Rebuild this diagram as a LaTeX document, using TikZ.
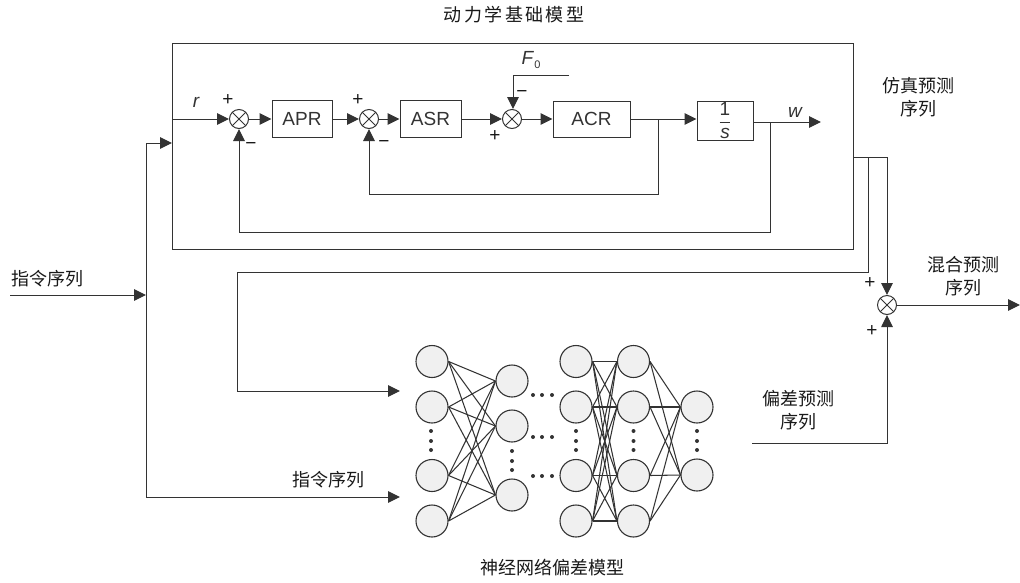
\documentclass[tikz,border=0pt]{standalone}
\usepackage{fontspec}
\setmainfont{Liberation Sans}
\newfontfamily\cjk{Noto Sans CJK SC}
\newfontfamily\cjkwide[LetterSpace=13]{Noto Sans CJK SC}
\usetikzlibrary{arrows.meta,calc}
\definecolor{ln}{HTML}{333333}
\tikzset{
  wire/.style={draw=ln,line width=1pt},
  arr/.style={wire,-{Triangle[length=12pt,width=11.5pt]}},
  blockbox/.style={draw=ln,line width=1pt,font=\fontsize{19}{22}\selectfont,inner sep=0pt,text=ln},
  sumnode/.style={circle,draw=ln,line width=1pt,minimum size=19pt,inner sep=0pt,
    path picture={
      \draw[ln,line width=0.9pt] (path picture bounding box.north west)--(path picture bounding box.south east)
        (path picture bounding box.north east)--(path picture bounding box.south west);}},
  neuron/.style={circle,draw=ln,fill=black!6,line width=1.1pt,minimum size=32pt,inner sep=0pt},
  cn/.style={font=\cjk\fontsize{18}{23}\selectfont,align=center,text=black!90,inner sep=0pt},
  cnw/.style={font=\cjkwide\fontsize{18}{23}\selectfont,align=center,text=black!90,inner sep=0pt},
  sym/.style={font=\fontsize{19}{20}\selectfont,inner sep=0pt,text=black!90},
  ital/.style={font=\itshape\fontsize{19}{22}\selectfont,inner sep=0pt,text=ln},
  nndot/.style={circle,fill=ln,minimum size=4pt,inner sep=0pt},
  edge/.style={draw=ln,line width=1.05pt},
}
\begin{document}
\begin{tikzpicture}[x=1pt,y=-1pt]
\useasboundingbox (0,0) rectangle (1020,582);
% main box
\node[draw=ln,line width=1pt,minimum width=681pt,minimum height=206pt,inner sep=0pt,anchor=north west] (plant) at (172,43) {};
% control loop
\node[sumnode] (s1) at (239,119) {};
\node[sumnode] (s2) at (369,119) {};
\node[sumnode] (s3) at (512,119) {};
\node[sumnode] (s4) at (887,305) {};
\node[blockbox,minimum width=60pt,minimum height=37pt] (apr) at (302,119) {APR};
\node[blockbox,minimum width=61pt,minimum height=37pt] (asr) at (430.5,119) {ASR};
\node[blockbox,minimum width=77pt,minimum height=36pt] (acr) at (591.5,119) {ACR};
\node[blockbox,minimum width=56pt,minimum height=39pt] (int) at (725,120.5) {$\displaystyle\frac{\hbox{1}}{\hbox{\itshape s}}$};
\coordinate (rin) at (172,119);
\coordinate (wout) at (821,122);
\coordinate (f0a) at (569,75);
\coordinate (f0b) at (513,75);
\coordinate (b1) at (658,119);
\coordinate (b1d) at (658,194);
\coordinate (b2) at (770,122);
\coordinate (b2d) at (770,232);
\draw[arr] (rin) -- (s1);
\draw[arr] (s1) -- (apr);
\draw[arr] (apr) -- (s2);
\draw[arr] (s2) -- (asr);
\draw[arr] (asr) -- (s3);
\draw[arr] (s3) -- (acr);
\draw[arr] (acr.east) -- (acr.east -| int.west);
\draw[arr] (int.east |- wout) -- (wout);
\draw[arr] (f0a) -- (f0b) -- (f0b |- s3.north);
\draw[arr] (b1) -- (b1d) -- (b1d -| s2.south) -- (s2.south);
\draw[arr] (b2) -- (b2d) -- (b2d -| s1.south) -- (s1.south);
% labels
\node[ital] (rl) at (196,102) {r};
\node[ital] (wl) at (795,112) {w};
\node[ital] (f0l) at (531,60) {F\kern1pt\raisebox{-4pt}{\upshape\fontsize{11}{12}\selectfont 0}};
\node[sym] at (228,100) {+};
\node[sym] at (358,100) {+};
\node[sym] at (495,136) {+};
\node[sym] at (251,146) {−};
\node[sym] at (384,144) {−};
\node[sym] at (522,94) {−};
\node[sym] at (870,283) {+};
\node[sym] at (872,331) {+};
% text
\node[cnw] at (514,15) {动力学基础模型};
\node[cn] at (918,97.5) {仿真预测\\序列};
\node[cn] at (47,279) {指令序列};
\node[cn] at (963,276) {混合预测\\序列};
\node[cn] at (798,410) {偏差预测\\序列};
\node[cn] at (328,480) {指令序列};
\node[cn] at (552,568) {神经网络偏差模型};
% neural net
\foreach \n/\y in {1/361.5,2/407,3/475.5,4/521}{
  \node[neuron] (a\n) at (432,\y) {};
  \node[neuron] (c\n) at (576,\y) {};
  \node[neuron] (d\n) at (633.5,\y) {};
}
\foreach \n/\y in {1/381,2/426,3/495}{\node[neuron] (b\n) at (512,\y) {};}
\foreach \n/\y in {1/407,2/475}{\node[neuron] (e\n) at (697,\y) {};}
\foreach \i in {1,2,3,4}{
  \foreach \j in {1,2,3}{\draw[edge] (a\i.east) -- (b\j.west);}
  \foreach \j in {1,2,3,4}{\draw[edge] (c\i.east) -- (d\j.west);}
  \foreach \j in {1,2}{\draw[edge] (d\i.east) -- (e\j.west);}
}
\foreach \x in {431,576,633.5,697}{\foreach \y in {431,441,450}{\node[nndot] at (\x,\y) {};}}
\foreach \y in {451,461,470}{\node[nndot] at (512,\y) {};}
\foreach \y in {395,437,476}{\foreach \x in {533,542,552}{\node[nndot] at (\x,\y) {};}}
% outer wiring
\coordinate (pout) at (853,157);
\coordinate (t1) at (887,157);
\coordinate (t2) at (868,157);
\coordinate (t3) at (868,272);
\coordinate (t4) at (237,272);
\coordinate (nn1) at (400,391);
\coordinate (mixout) at (1020,305);
\coordinate (dev0) at (752,443);
\coordinate (dev1) at (887,443);
\coordinate (cmdin) at (10,295);
\coordinate (cmdj) at (146,295);
\coordinate (top) at (146,143);
\coordinate (bot) at (146,497);
\coordinate (pin) at (172,143);
\coordinate (nn2) at (400,497);
\draw[arr] (pout) -- (t1) -- (s4);
\draw[wire] (t2) -- (t3) -- (t4) -- (t4 |- nn1);
\draw[arr] (t4 |- nn1) -- (nn1);
\draw[arr] (s4) -- (mixout);
\draw[arr] (dev0) -- (dev1) -- (s4);
\draw[arr] (cmdin) -- (cmdj);
\draw[wire] (top) -- (bot);
\draw[arr] (top) -- (pin);
\draw[arr] (bot) -- (nn2);
\end{tikzpicture}
\end{document}
